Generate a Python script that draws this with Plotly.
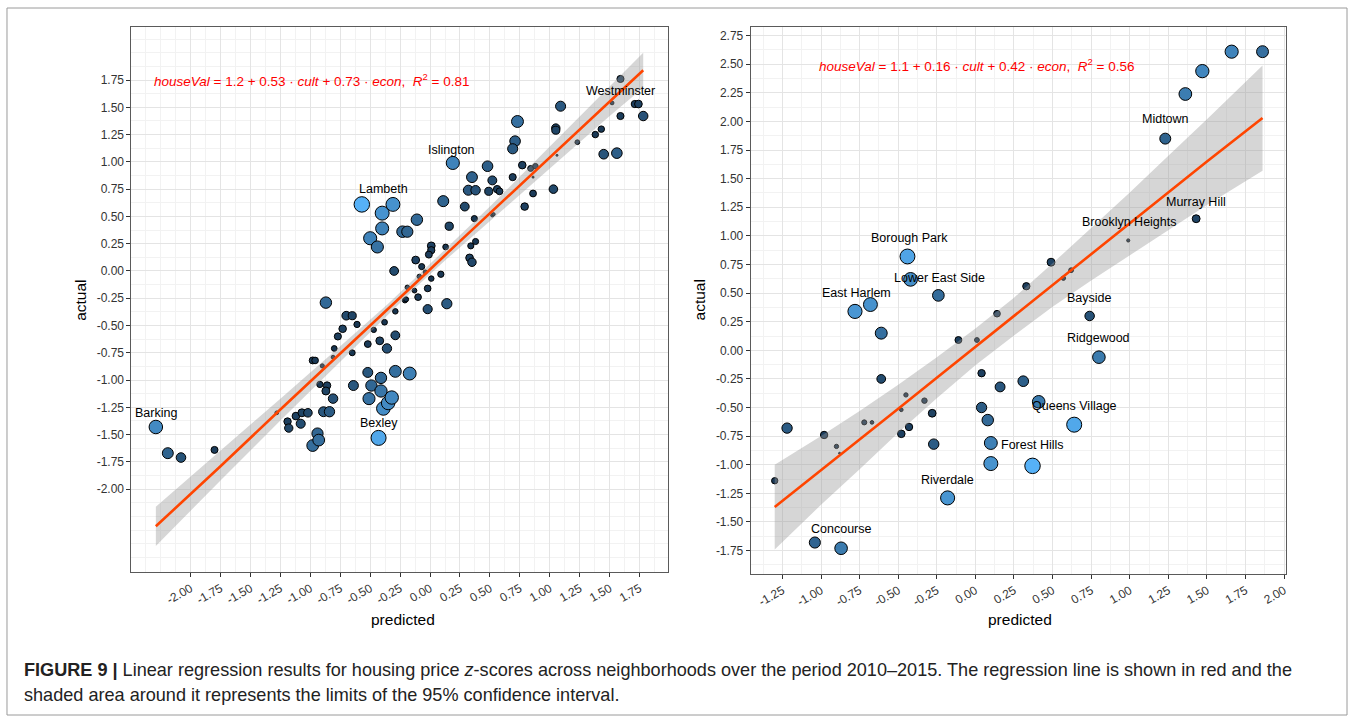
import numpy as np
import plotly.graph_objects as go

FONT = "Liberation Sans, Arial, Helvetica, sans-serif"
W, H = 1357, 718

# ---------------- London boroughs ----------------
lon_pred = [-2.29, -2.19, -2.08, -1.80, -1.28, -1.19, -1.18, -1.12, -1.08, -1.07, -1.02, -0.98, -0.94, -0.93,
            -0.98, -0.96, -0.90, -0.92, -0.86, -0.87, -0.89, -0.84, -0.81, -0.87, -0.81, -0.80, -0.77, -0.73,
            -0.70, -0.65, -0.61, -0.65, -0.64, -0.52, -0.52, -0.47, -0.42, -0.38, -0.36, -0.29, -0.29, -0.49,
            -0.51, -0.41, -0.41, -0.39, -0.35, -0.32, -0.29, -0.43, -0.17, -0.21, -0.02, 0.14,
            -0.57, -0.31, -0.40, -0.40, -0.50, -0.44, -0.11, -0.23, -0.19, -0.30, 0.11, 0.29, 0.16, 0.35,
            0.32, 0.38, 0.37, 0.38, 0.34, 0.33, 0.35, 0.01, 0.01, -0.01, 0.13, -0.12, -0.07, -0.04, 0.01,
            0.09, -0.09, -0.19, -0.13, -0.02, -0.10, -0.20,
            1.59, 1.52, 1.71, 1.74, 1.59, 1.78, 1.09, 1.05, 1.05, 1.43, 1.38, 1.23, 1.45, 1.56, 1.06, 0.73,
            0.71, 0.69, 0.77, 0.84, 0.88, 0.86, 0.69, 0.48, 0.52, 0.49, 0.56, 0.58, 1.03, 0.86, 0.79, 0.52,
            0.53, 0.19]
lon_actual = [-1.43, -1.67, -1.71, -1.64, -1.30, -1.38, -1.44, -1.33, -1.40, -1.30, -1.30, -1.60, -1.49, -1.55,
              -0.82, -0.82, -0.87, -1.04, -1.05, -1.10, -1.29, -1.29, -1.17, -0.29, -0.79, -0.71, -0.60, -0.53,
              -0.41, -0.41, -0.49, -0.75, -1.05, -0.93, -0.67, -0.54, -0.64, -0.47, -0.71, -0.37, -0.59, -1.05,
              -1.17, -0.98, -1.10, -1.26, -1.21, -1.16, -0.92, -1.53, -0.94, -0.27, -0.35, -0.30,
              0.61, 0.61, 0.53, 0.39, 0.30, 0.22, 0.47, 0.36, 0.36, 0.00, 0.64, 0.59, 0.41, 0.86,
              0.74, 0.74, 0.48, 0.27, 0.23, 0.12, 0.08, 0.23, 0.19, 0.15, 0.22, 0.10, 0.04, -0.01, -0.07,
              -0.03, -0.05, -0.15, -0.18, -0.16, -0.24, -0.26,
              1.76, 1.54, 1.53, 1.53, 1.42, 1.42, 1.51, 1.31, 1.29, 1.30, 1.25, 1.18, 1.07, 1.08, 1.06, 1.37,
              1.19, 1.12, 0.97, 0.94, 0.96, 0.86, 0.86, 0.96, 0.83, 0.73, 0.75, 0.73, 0.75, 0.71, 0.59, 0.51,
              0.52, 0.99]

# lm fit of actual ~ predicted, with its 95% confidence band
lon_fit_x = [-2.29, -1.75, -1.25, -0.75, -0.35, -0.10, 0.15, 0.50, 1.00, 1.50, 1.78]
lon_fit_y = [-2.34, -1.79, -1.27, -0.76, -0.35, -0.09, 0.17, 0.53, 1.04, 1.56, 1.84]
lon_ci_lo = [-2.52, -1.92, -1.37, -0.83, -0.40, -0.13, 0.12, 0.46, 0.94, 1.42, 1.68]
lon_ci_hi = [-2.16, -1.65, -1.17, -0.69, -0.30, -0.04, 0.22, 0.59, 1.14, 1.69, 2.00]

lon_labels = ["Barking", "Bexley", "Lambeth", "Islington", "Westminster"]
lon_label_x = [-2.29, -0.43, -0.39, 0.18, 1.59]
lon_label_y = [-1.30, -1.39, 0.75, 1.11, 1.65]

lon_xticks = [-2.00, -1.75, -1.50, -1.25, -1.00, -0.75, -0.50, -0.25, 0.00, 0.25, 0.50, 0.75, 1.00, 1.25, 1.50, 1.75]
lon_yticks = [-2.00, -1.75, -1.50, -1.25, -1.00, -0.75, -0.50, -0.25, 0.00, 0.25, 0.50, 0.75, 1.00, 1.25, 1.50, 1.75]

# ---------------- New York neighborhoods ----------------
nyc_pred = [-1.30, -1.22, -0.98, -0.90, -0.88, -1.04, -0.87, -0.78, -0.68, -0.61, -0.61, -0.72, -0.67, -0.48,
            -0.45, -0.43, -0.48, -0.33, -0.28, -0.27, -0.44, -0.42, -0.24, -0.11, 0.01, 0.14, 0.04, 0.16, 0.31,
            0.04, 0.08, 0.10, 0.10, 0.37, -0.18, 0.33, 0.49, 0.57, 0.62, 0.99, 0.74, 0.80, 0.41, 0.64, 1.43,
            1.23, 1.36, 1.47, 1.66, 1.86]
nyc_actual = [-1.14, -0.68, -0.74, -0.84, -0.90, -1.68, -1.73, 0.34, 0.40, 0.15, -0.25, -0.63, -0.63, -0.52,
              -0.39, -0.67, -0.73, -0.44, -0.55, -0.82, 0.82, 0.62, 0.48, 0.09, 0.09, 0.32, -0.20, -0.32, -0.27,
              -0.50, -0.61, -0.81, -0.99, -1.01, -1.29, 0.56, 0.77, 0.63, 0.70, 0.96, 0.30, -0.06, -0.45, -0.65,
              1.15, 1.85, 2.24, 2.44, 2.61, 2.61]

nyc_fit_x = [-1.30, -1.00, -0.75, -0.50, -0.25, 0.00, 0.25, 0.50, 0.75, 1.00, 1.25, 1.50, 1.86]
nyc_fit_y = [-1.37, -1.05, -0.78, -0.51, -0.24, 0.03, 0.30, 0.57, 0.84, 1.11, 1.38, 1.65, 2.03]
nyc_ci_lo = [-1.74, -1.35, -1.04, -0.72, -0.42, -0.13, 0.13, 0.38, 0.61, 0.83, 1.05, 1.27, 1.57]
nyc_ci_hi = [-1.00, -0.75, -0.53, -0.30, -0.06, 0.19, 0.46, 0.76, 1.07, 1.38, 1.70, 2.02, 2.49]

nyc_labels = ["Borough Park", "Lower East Side", "East Harlem", "Midtown", "Murray Hill", "Brooklyn Heights",
              "Bayside", "Ridgewood", "Queens Village", "Forest Hills", "Riverdale", "Concourse"]
nyc_label_x = [-0.43, -0.23, -0.77, 1.23, 1.43, 1.00, 0.74, 0.80, 0.64, 0.37, -0.18, -0.87]
nyc_label_y = [0.98, 0.63, 0.50, 2.02, 1.30, 1.12, 0.46, 0.11, -0.49, -0.83, -1.13, -1.56]

nyc_xticks = [-1.25, -1.00, -0.75, -0.50, -0.25, 0.00, 0.25, 0.50, 0.75, 1.00, 1.25, 1.50, 1.75, 2.00]
nyc_yticks = [-1.75, -1.50, -1.25, -1.00, -0.75, -0.50, -0.25, 0.00, 0.25, 0.50, 0.75, 1.00, 1.25, 1.50,
              1.75, 2.00, 2.25, 2.50, 2.75]

GRADIENT = [[0.0, "#132B43"], [0.5, "#336A98"], [1.0, "#56B1F7"]]
SMOOTH_FILL = "rgba(153,153,153,0.4)"
SMOOTH_LINE = "#FF4500"


def panel_traces(pred, actual, fx, fy, lo, hi, xa, ya):
    pred = np.asarray(pred)
    actual = np.asarray(actual)
    # size and colour both follow the absolute prediction error
    err = np.abs(actual - pred)
    t = (err - err.min()) / (err.max() - err.min())
    sizes = 2.0 + 13.5 * np.sqrt(t)
    pts = go.Scatter(
        x=pred, y=actual, mode="markers", xaxis=xa, yaxis=ya, hoverinfo="skip",
        marker=dict(size=sizes, color=err, cmin=err.min(), cmax=err.max(), colorscale=GRADIENT,
                    showscale=False, opacity=1, line=dict(color="black", width=1)),
    )
    band = go.Scatter(
        x=list(fx) + list(fx)[::-1], y=list(hi) + list(lo)[::-1], mode="lines", fill="toself",
        fillcolor=SMOOTH_FILL, line=dict(width=0), xaxis=xa, yaxis=ya, hoverinfo="skip",
    )
    line = go.Scatter(
        x=fx, y=fy, mode="lines", line=dict(color=SMOOTH_LINE, width=2.6),
        xaxis=xa, yaxis=ya, hoverinfo="skip",
    )
    return [pts, band, line]


def axis(domain, rng, ticks, anchor, angle=0):
    return dict(
        domain=domain, range=rng, anchor=anchor, tickmode="array", tickvals=ticks,
        ticktext=[f"{v:.2f}" for v in ticks], tickangle=angle,
        ticks="outside", ticklen=4, tickwidth=1, tickcolor="#333333",
        tickfont=dict(family=FONT, size=12, color="#333333"),
        showline=True, mirror=True, linecolor="#5a5a5a", linewidth=1,
        showgrid=True, gridcolor="#E4E4E4", gridwidth=1, zeroline=False,
        minor=dict(tickmode="linear", tick0=0, dtick=0.125, showgrid=True, gridcolor="#F2F2F2",
                   gridwidth=1, ticks=""),
        fixedrange=True,
    )


fig = go.Figure()
for tr in panel_traces(lon_pred, lon_actual, lon_fit_x, lon_fit_y, lon_ci_lo, lon_ci_hi, "x", "y"):
    fig.add_trace(tr)
for tr in panel_traces(nyc_pred, nyc_actual, nyc_fit_x, nyc_fit_y, nyc_ci_lo, nyc_ci_hi, "x2", "y2"):
    fig.add_trace(tr)

ann = []
label_font = dict(family=FONT, size=12.5, color="black")
for name, x, y in zip(lon_labels, lon_label_x, lon_label_y):
    ann.append(dict(x=x, y=y, xref="x", yref="y", text=name, showarrow=False, font=label_font))
for name, x, y in zip(nyc_labels, nyc_label_x, nyc_label_y):
    ann.append(dict(x=x, y=y, xref="x2", yref="y2", text=name, showarrow=False, font=label_font))

eq_font = dict(family=FONT, size=13.5, color="#FF0000")
ann.append(dict(x=-2.32, y=1.75, xref="x", yref="y", xanchor="left", yanchor="middle", showarrow=False,
                font=eq_font,
                text="<i>houseVal</i> = 1.2 + 0.53 · <i>cult</i> + 0.73 · <i>econ</i>,&nbsp; <i>R</i><sup>2</sup> = 0.81"))
ann.append(dict(x=-1.025, y=2.494, xref="x2", yref="y2", xanchor="left", yanchor="middle", showarrow=False,
                font=eq_font,
                text="<i>houseVal</i> = 1.1 + 0.16 · <i>cult</i> + 0.42 · <i>econ</i>,&nbsp; <i>R</i><sup>2</sup> = 0.56"))

title_font = dict(family=FONT, size=15.5, color="black")
for xc in (404, 1022):
    ann.append(dict(x=xc / W, y=1 - 619 / H, xref="paper", yref="paper", xanchor="center", yanchor="middle",
                    text="predicted", showarrow=False, font=title_font))
for xc in (80, 701):
    ann.append(dict(x=xc / W, y=1 - 300 / H, xref="paper", yref="paper", xanchor="center", yanchor="middle",
                    text="actual", textangle=-90, showarrow=False, font=title_font))

cap_font = dict(family=FONT, size=18.1, color="#222222")
ann.append(dict(x=22 / W, y=1 - 670 / H, xref="paper", yref="paper", xanchor="left", yanchor="middle",
                showarrow=False, font=cap_font, align="left",
                text="<b>FIGURE 9 |</b> Linear regression results for housing price <i>z</i>-scores across "
                     "neighborhoods over the period 2010–2015. The regression line is shown in red and the"))
ann.append(dict(x=22 / W, y=1 - 695 / H, xref="paper", yref="paper", xanchor="left", yanchor="middle",
                showarrow=False, font=cap_font, align="left",
                text="shaded area around it represents the limits of the 95% confidence interval."))

fig.update_layout(
    width=W, height=H, margin=dict(l=0, r=0, t=0, b=0),
    paper_bgcolor="white", plot_bgcolor="white", showlegend=False,
    font=dict(family=FONT),
    xaxis=axis([131.7 / W, 669 / W], [-2.494, 1.983], lon_xticks, "y", angle=-30),
    yaxis=axis([1 - 572 / H, 1 - 27 / H], [-2.759, 2.236], lon_yticks, "x"),
    xaxis2=axis([752.3 / W, 1289 / W], [-1.456, 2.013], nyc_xticks, "y2", angle=-30),
    yaxis2=axis([1 - 574 / H, 1 - 27.3 / H], [-1.955, 2.823], nyc_yticks, "x2"),
    annotations=ann,
    shapes=[dict(type="rect", xref="paper", yref="paper", x0=7 / W, x1=1350 / W, y0=1 - 715 / H,
                 y1=1 - 8 / H, line=dict(color="#9a9a9a", width=1))],
)

fig.write_html("out.html")
